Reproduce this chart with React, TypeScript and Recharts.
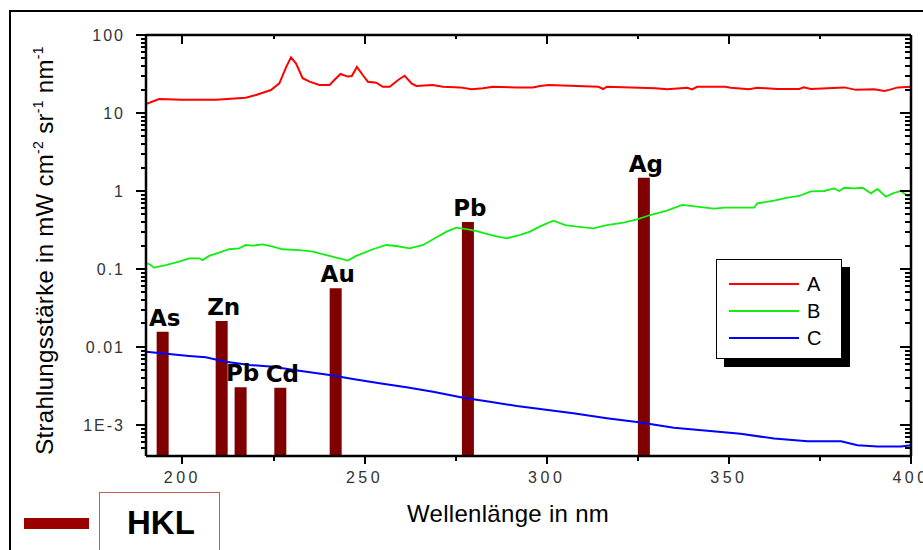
import React from 'react';
import { ComposedChart, Line, Bar, XAxis, YAxis, Legend, LabelList } from 'recharts';

// Spektren der Lampen A, B, C: [Wellenlänge in nm, Strahlungsstärke]
const SERIES_A: [number, number][] = [
  [190, 13.0], [193.6, 15.1], [199.9, 14.8], [209.2, 14.8], [217.4, 15.7], [220.2, 17.0],
  [224.3, 19.7], [226.6, 24.0], [228.5, 39], [229.8, 51.8], [231.2, 43], [233.0, 27.9],
  [234.9, 25.2], [237.6, 22.9], [240.4, 22.9], [241.7, 26.5], [243.4, 31.6], [245.4, 29.3],
  [246.5, 29.8], [247.9, 39], [249.5, 30.7], [250.9, 25.2], [253.2, 24.5], [255.0, 21.7],
  [256.9, 21.7], [259.2, 26.5], [261.0, 30.0], [262.9, 24.0], [264.2, 22.2], [268.7, 22.9],
  [271.5, 21.7], [276.2, 21.3], [279.4, 20.1], [282.5, 20.8], [285.2, 21.7], [291.8, 21.3],
  [296.2, 21.3], [298.2, 22.2], [300.5, 22.9], [314.2, 21.7], [315.5, 20.3], [316.5, 21.7],
  [329.8, 20.8], [333.0, 20.1], [338.6, 21.1], [339.9, 20.1], [341.3, 21.7], [349.1, 21.7],
  [350.5, 21.1], [355.5, 20.1], [357.8, 21.1], [363.3, 20.3], [369.3, 20.3], [370.6, 21.3],
  [372.5, 20.3], [381.7, 21.3], [384.9, 19.8], [389.9, 20.1], [392.7, 19.2], [394.0, 19.8],
  [396.4, 21.3], [400, 21.7],
];

const SERIES_B: [number, number][] = [
  [190, 0.118], [191, 0.115], [192.2, 0.104], [195.4, 0.112], [199.1, 0.124], [201.8, 0.137],
  [204.6, 0.137], [205.5, 0.13], [207.3, 0.147], [210.1, 0.162], [212.8, 0.179], [215.6, 0.184],
  [217.4, 0.203], [219.3, 0.199], [222.0, 0.207], [224.8, 0.193], [227.5, 0.179], [232.1, 0.175],
  [235.8, 0.167], [239.5, 0.151], [243.1, 0.137], [245.4, 0.128], [247.7, 0.147], [252.3, 0.179],
  [256.0, 0.203], [258.7, 0.197], [262.4, 0.184], [266.1, 0.203], [268.8, 0.24], [272.5, 0.301],
  [275.2, 0.339], [278.4, 0.323], [280.8, 0.306], [285.3, 0.267], [289.0, 0.247], [292.7, 0.273],
  [295.4, 0.301], [298.2, 0.352], [301.8, 0.416], [305.1, 0.366], [308.3, 0.349], [312.8, 0.332],
  [316.5, 0.366], [321.1, 0.393], [324.8, 0.433], [328.4, 0.492], [333.0, 0.56], [337.2, 0.662],
  [341.3, 0.63], [345.9, 0.594], [349.1, 0.611], [356.9, 0.611], [357.8, 0.695], [362.4, 0.751],
  [366.1, 0.821], [369.3, 0.863], [372.5, 0.99], [376.2, 1.0], [378.9, 1.08], [380.3, 1.0],
  [381.7, 1.1], [384.4, 1.08], [386.7, 1.1], [389.0, 0.933], [390.8, 1.06], [393.1, 0.845],
  [395.0, 0.933], [397.2, 1.0], [399.1, 0.863], [400, 0.889],
];

const SERIES_C: [number, number][] = [
  [190, 0.0087], [196.3, 0.00813], [201.8, 0.00767], [206.4, 0.00738], [211.9, 0.00648],
  [218.4, 0.00588], [224.8, 0.00559], [232.1, 0.00496], [240.4, 0.00437], [246.8, 0.00389],
  [254.1, 0.00342], [261.5, 0.00304], [268.8, 0.00267], [277.1, 0.00224], [284.4, 0.00199],
  [291.8, 0.00175], [298.2, 0.0016], [307.3, 0.00141], [316.5, 0.00122], [325.3, 0.00108],
  [334.9, 0.00092], [344.1, 0.00084], [353.2, 0.00077], [362.4, 0.00067], [371.6, 0.00062],
  [380.8, 0.00062], [385.3, 0.00055], [390.8, 0.00053], [397.3, 0.00053], [400, 0.00055],
];

// Hohlkathodenlampen-Linien
const HKL_ELEMENTS = ['As', 'Zn', 'Pb', 'Cd', 'Au', 'Pb', 'Ag'];
const HKL_NM = [194.7, 210.9, 216.1, 227.0, 242.2, 278.5, 326.8];
const HKL_VALUES = [0.0157, 0.0215, 0.00304, 0.003, 0.0565, 0.4, 1.48];

// Achsen
const X_DOMAIN: [number, number] = [190, 400];
const X_MAJOR = [200, 250, 300, 350, 400];
const X_MINOR = [225, 275, 325, 375];
const Y_DOMAIN: [number, number] = [4e-4, 100];
const Y_MAJOR = [0.001, 0.01, 0.1, 1, 10, 100];
const Y_LABELS = ['1E-3', '0.01', '0.1', '1', '10', '100'];
const Y_DECADES = [1e-4, 1e-3, 1e-2, 1e-1, 1, 10];
const MINOR_STEPS = [2, 3, 4, 5, 6, 7, 8, 9];
const Y_MINOR = Y_DECADES.flatMap((d) => MINOR_STEPS.map((m) => m * d)).filter((v) => v > 4.5e-4);

const X_TICKS = [...X_MAJOR, ...X_MINOR];
const Y_TICKS = [...Y_MAJOR, ...Y_MINOR];

const toPoints = (arr: [number, number][]) => arr.map(([nm, v]) => ({ nm, v }));
const pointsA = toPoints(SERIES_A);
const pointsB = toPoints(SERIES_B);
const pointsC = toPoints(SERIES_C);
const hklData = HKL_NM.map((nm, i) => ({ nm, v: HKL_VALUES[i], el: HKL_ELEMENTS[i] }));

// Layout des Diagramms
const W = 923;
const H = 550;
const MARGIN = { top: 25, right: 2, bottom: 44, left: 86 };
const Y_AXIS_W = 60;
const Y_AXIS_R_W = 10;
const X_AXIS_H = 50;
const X_AXIS_TOP_H = 10;
const PLOT = {
  left: MARGIN.left + Y_AXIS_W,
  right: W - MARGIN.right - Y_AXIS_R_W,
  top: MARGIN.top + X_AXIS_TOP_H,
  bottom: H - MARGIN.bottom - X_AXIS_H,
};

const SANS = '"Liberation Sans", Arial, sans-serif';
const HKL_COLOR = '#800000';
const HKL_KEY_COLOR = '#9a0000';
const AXIS_LINE = { stroke: '#000', strokeWidth: 2.5 };
const TICK_COLOR = '#000';

const majorY = (v: number) => Y_MAJOR.findIndex((m) => Math.abs(m - v) / m < 1e-6);

// Teilstrich als Rechteck (Breite/Höhe dürfen negativ sein)
const Mark = ({ x, y, w, h }: { x: number; y: number; w: number; h: number }) => (
  <rect
    x={Math.round(Math.min(x, x + w))}
    y={Math.round(Math.min(y, y + h))}
    width={Math.abs(w)}
    height={Math.abs(h)}
    fill={TICK_COLOR}
  />
);

// Teilstriche der logarithmischen y-Achsen: links nach außen, rechts nach innen
function YTickOverlay() {
  const lo = Math.log10(Y_DOMAIN[0]);
  const hi = Math.log10(Y_DOMAIN[1]);
  const yOf = (v: number) => PLOT.top + ((hi - Math.log10(v)) / (hi - lo)) * (PLOT.bottom - PLOT.top);
  return (
    <svg width={W} height={H} style={{ position: 'absolute', left: 0, top: 0, pointerEvents: 'none' }}>
      {Y_TICKS.map((v) => {
        const major = majorY(v) >= 0;
        const y = yOf(v) - 1;
        return (
          <g key={v}>
            <Mark x={PLOT.left} y={y} w={-(major ? 10 : 5)} h={2} />
            <Mark x={PLOT.right} y={y} w={-(major ? 11 : 6)} h={2} />
          </g>
        );
      })}
    </svg>
  );
}

function LeftTickLabel({ x, y, payload }: any) {
  const i = majorY(payload.value);
  if (i < 0) return <g />;
  return (
    <text x={x - 21} y={y} dy="0.36em" textAnchor="end" fontSize={16} letterSpacing={2} fill="#333" fontFamily={SANS}>
      {Y_LABELS[i]}
    </text>
  );
}

function BottomTick({ x, y, payload }: any) {
  const major = X_MAJOR.includes(payload.value);
  return (
    <g>
      <Mark x={x - 1} y={y} w={2} h={major ? 8 : 5} />
      {major && (
        <text x={x} y={y + 27} textAnchor="middle" fontSize={16} letterSpacing={3.5} fill="#333" fontFamily={SANS}>
          {payload.value}
        </text>
      )}
    </g>
  );
}

function TopTick({ x, y, payload }: any) {
  return <Mark x={x - 1} y={y} w={2} h={X_MAJOR.includes(payload.value) ? 9 : 4} />;
}

function YTitle({ viewBox }: any) {
  const cx = viewBox.x - 33;
  const cy = viewBox.y + viewBox.height / 2 + 5;
  return (
    <text transform={`rotate(-90 ${cx} ${cy})`} x={cx} y={cy} textAnchor="middle" fontSize={24} letterSpacing={0.3} fill="#000" fontFamily={SANS}>
      {'Strahlungsstärke in mW cm'}
      <tspan dy={-10} fontSize={14}>-2</tspan>
      <tspan dy={10}>{' sr'}</tspan>
      <tspan dy={-10} fontSize={14}>-1</tspan>
      <tspan dy={10}>{' nm'}</tspan>
      <tspan dy={-10} fontSize={14}>-1</tspan>
    </text>
  );
}

function ElementLabel({ x, y, width, value }: any) {
  return (
    <text x={x + width / 2 + 2} y={y - 6} textAnchor="middle" fontSize={23} fontWeight="bold" fill="#000" fontFamily='"DejaVu Sans", Verdana, sans-serif'>
      {value}
    </text>
  );
}

// Legende A/B/C mit Schatten rechts, HKL-Kasten unten links, Achsentitel unten
function ChartLegend({ payload }: any) {
  const items = payload ?? [];
  const lines = items.filter((p: any) => p.type === 'line');
  const bars = items.filter((p: any) => p.type === 'rect');
  return (
    <div style={{ position: 'relative', width: W, height: H, fontFamily: SANS }}>
      <div style={{ position: 'absolute', left: 724, top: 267, width: 126, height: 100, background: '#000' }} />
      <div style={{ position: 'absolute', left: 716, top: 259, width: 126, height: 100, background: '#fff', border: '1px solid #000', boxSizing: 'border-box' }}>
        {lines.map((p: any, i: number) => (
          <div key={p.value} style={{ position: 'absolute', left: 12, top: 13 + i * 27, height: 22, display: 'flex', alignItems: 'center' }}>
            <div style={{ width: 70, height: 2, background: p.color }} />
            <span style={{ marginLeft: 8, fontSize: 20, lineHeight: '22px', color: '#000' }}>{p.value}</span>
          </div>
        ))}
      </div>
      {bars.map((p: any) => (
        <React.Fragment key={p.value}>
          <div style={{ position: 'absolute', left: 24, top: 518, width: 65, height: 11, background: HKL_KEY_COLOR }} />
          <div style={{ position: 'absolute', left: 99, top: 492, width: 121, height: 80, border: '1.5px solid #c45a5a', boxSizing: 'border-box' }} />
          <div style={{ position: 'absolute', left: 127, top: 506, fontSize: 33, lineHeight: '33px', fontWeight: 'bold', color: '#000' }}>
            {p.value}
          </div>
        </React.Fragment>
      ))}
      <div style={{ position: 'absolute', left: 407, top: 500, fontSize: 24, lineHeight: '28px', letterSpacing: 0.3, color: '#000' }}>
        Wellenlänge in nm
      </div>
    </div>
  );
}

export default function App() {
  return (
    <div style={{ position: 'fixed', left: 0, top: 0, width: W, height: H, overflow: 'hidden', background: '#fff', fontFamily: SANS }}>
      <div style={{ position: 'absolute', left: 9, top: 10, width: 1000, height: 1000, borderLeft: '2px solid #000', borderTop: '2px solid #000' }} />
      <ComposedChart width={W} height={H} data={hklData} margin={MARGIN}>
        <XAxis
          dataKey="nm"
          type="number"
          domain={X_DOMAIN}
          allowDataOverflow
          ticks={X_TICKS}
          interval={0}
          height={X_AXIS_H}
          tickSize={0}
          tickMargin={0}
          tickLine={false}
          axisLine={AXIS_LINE}
          tick={(props: any) => <BottomTick {...props} />}
        />
        <XAxis
          xAxisId="top"
          orientation="top"
          dataKey="nm"
          type="number"
          domain={X_DOMAIN}
          allowDataOverflow
          ticks={X_TICKS}
          interval={0}
          height={X_AXIS_TOP_H}
          tickSize={0}
          tickMargin={0}
          tickLine={false}
          axisLine={AXIS_LINE}
          tick={(props: any) => <TopTick {...props} />}
        />
        <XAxis xAxisId="hkl" dataKey="nm" type="number" domain={X_DOMAIN} allowDataOverflow hide />
        <YAxis
          scale="log"
          type="number"
          domain={Y_DOMAIN}
          allowDataOverflow
          ticks={Y_MAJOR}
          interval={0}
          width={Y_AXIS_W}
          tickSize={0}
          tickMargin={0}
          tickLine={false}
          axisLine={AXIS_LINE}
          tick={(props: any) => <LeftTickLabel {...props} />}
          label={{ content: (props: any) => <YTitle {...props} /> }}
        />
        <YAxis
          yAxisId="right"
          orientation="right"
          scale="log"
          type="number"
          domain={Y_DOMAIN}
          allowDataOverflow
          width={Y_AXIS_R_W}
          tick={false}
          tickLine={false}
          axisLine={AXIS_LINE}
        />
        <Legend
          layout="horizontal"
          verticalAlign="middle"
          align="center"
          wrapperStyle={{ left: 0, top: 0, width: W, height: H, pointerEvents: 'none' }}
          content={(props: any) => <ChartLegend {...props} />}
        />
        <Line data={pointsA} dataKey="v" name="A" stroke="#ff0000" strokeWidth={2} dot={false} legendType="line" isAnimationActive={false} />
        <Line data={pointsB} dataKey="v" name="B" stroke="#11ee11" strokeWidth={1.8} dot={false} legendType="line" isAnimationActive={false} />
        <Line data={pointsC} dataKey="v" name="C" stroke="#0000ff" strokeWidth={2} dot={false} legendType="line" isAnimationActive={false} />
        <Bar xAxisId="hkl" dataKey="v" name="HKL" fill={HKL_COLOR} barSize={12} legendType="rect" isAnimationActive={false}>
          <LabelList dataKey="el" content={(props: any) => <ElementLabel {...props} />} />
        </Bar>
      </ComposedChart>
      <YTickOverlay />
    </div>
  );
}
